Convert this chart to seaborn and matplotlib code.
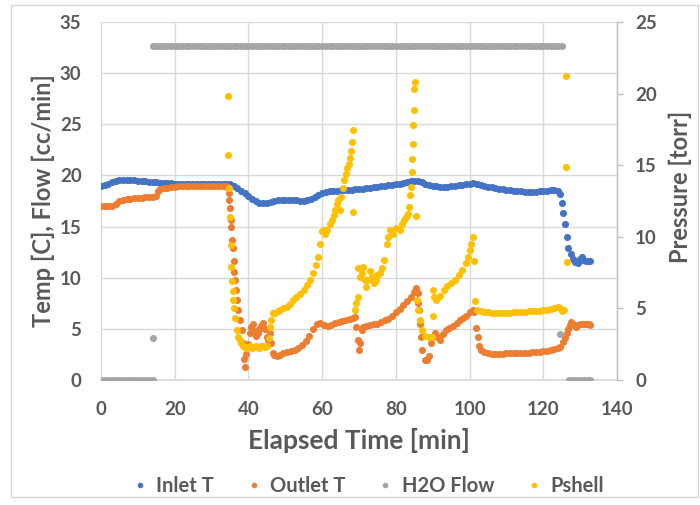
import matplotlib
matplotlib.use('Agg')
import matplotlib.pyplot as plt
import seaborn as sns
from matplotlib.lines import Line2D
from matplotlib.patches import Rectangle

# ---------------- data ----------------
inlet_time = [0, 1, 2, 3, 4, 5, 6, 7, 8, 9, 10, 11, 12, 13, 14, 15, 16, 17, 18, 19,
              20, 21, 22, 23, 24, 25, 26, 27, 28, 29, 30, 31, 32, 33, 34, 35, 36, 37, 38, 39,
              40, 41, 42, 43, 44, 45, 46, 47, 48, 49, 50, 51, 52, 53, 54, 55, 56, 57, 58, 59,
              60, 61, 62, 63, 64, 65, 66, 67, 68, 69, 70, 71, 72, 73, 74, 75, 76, 77, 78, 79,
              80, 81, 82, 83, 84, 85, 86, 87, 88, 89, 90, 91, 92, 93, 94, 95, 96, 97, 98, 99,
              100, 101, 102, 103, 104, 105, 106, 107, 108, 109, 110, 111, 112, 113, 114, 115,
              116, 117, 118, 119, 120, 121, 122, 123, 124,
              124.5, 125, 125.4, 125.9, 126.3, 126.8, 127.4, 128.1, 128.7, 129.4, 130.0, 130.4,
              130.9, 131.5, 132.1, 132.7]
inlet_temp = [19.0, 19.05, 19.2, 19.4, 19.5, 19.55, 19.6, 19.6, 19.6, 19.55,
              19.5, 19.5, 19.45, 19.4, 19.4, 19.35, 19.3, 19.3, 19.3, 19.25,
              19.2, 19.2, 19.2, 19.2, 19.2, 19.2, 19.2, 19.2, 19.2, 19.2,
              19.2, 19.2, 19.2, 19.2, 19.2, 19.15, 19.0, 18.8, 18.5, 18.25,
              18.0, 17.7, 17.5, 17.35, 17.3, 17.3, 17.4, 17.5, 17.6, 17.6,
              17.6, 17.6, 17.55, 17.55, 17.5, 17.5, 17.55, 17.7, 17.9, 18.1,
              18.3, 18.4, 18.45, 18.5, 18.5, 18.55, 18.55, 18.6, 18.6, 18.65,
              18.7, 18.7, 18.75, 18.8, 18.85, 18.9, 18.95, 19.0, 19.05, 19.1,
              19.15, 19.2, 19.3, 19.35, 19.45, 19.5, 19.5, 19.35, 19.2, 19.1,
              19.0, 18.95, 18.9, 18.9, 18.9, 18.95, 19.0, 19.05, 19.1, 19.15,
              19.2, 19.25, 19.2, 19.1, 19.0, 18.9, 18.85, 18.8, 18.7, 18.65,
              18.6, 18.55, 18.5, 18.45, 18.45, 18.4, 18.4, 18.4, 18.4, 18.45,
              18.5, 18.5, 18.55, 18.55, 18.5,
              18.2, 17.3, 16.3, 15.3, 14.0, 12.9, 12.3, 11.8, 11.5, 11.4, 11.8, 12.05,
              11.7, 11.6, 11.6, 11.6]

outlet_time = [0, 1, 2, 3, 4, 5, 6, 7, 8, 9, 10, 11, 12, 13, 14, 15, 15.5, 16, 17, 18, 19,
               20, 21, 22, 23, 24, 25, 26, 27, 28, 29, 30, 31, 32, 33, 34,
               34.3, 34.6, 34.8, 35.0, 35.2, 35.4, 35.6, 35.8, 36.0, 36.2, 36.4, 36.6, 36.8,
               37.2, 37.7, 38.2, 38.6, 38.8, 39.0,
               39.4, 39.8, 40.3, 40.8, 41.2, 41.6, 42.0, 42.5, 43.0, 43.5, 44.0, 44.5, 45.0,
               45.4, 45.8, 46.2, 46.6, 47.0, 47.7,
               48.5, 49.5, 50.5, 51.5, 52.5, 53.5, 54.5, 55.5, 56.5, 57.5, 58.5, 59.5, 60.5,
               61.5, 62.5, 63.5, 64.5, 65.5, 66.5, 67.5, 68.5, 69.0,
               69.3, 69.6, 69.9, 70.3, 70.7, 71.2, 72, 73, 74, 75, 76, 77, 78, 79, 80, 81,
               82, 83, 84, 85, 85.6,
               85.9, 86.1, 86.3, 86.6, 86.8, 87.2, 87.8, 88.4, 89.0, 89.6, 90.0, 90.6, 91.4,
               92.0, 92.8, 93.6, 94.5, 95.5, 96.5, 97.4, 98.2, 99, 100, 100.8,
               101.3, 101.8, 102.2, 102.6, 103.2, 104, 105, 106, 107, 108, 109, 110, 111,
               112, 113, 114, 115, 116, 117, 118, 119, 120, 121, 122, 123, 124,
               124.5, 125.4, 125.9, 126.3, 126.8, 127.2, 127.6, 128.1, 128.6, 129.0, 129.5,
               130, 130.6, 131.2, 131.8, 132.4, 132.8]
outlet_temp = [17.0, 17.0, 17.0, 17.0, 17.2, 17.5, 17.6, 17.65, 17.7, 17.75, 17.8, 17.8,
               17.85, 17.9, 17.9, 17.95, 18.5, 18.7, 18.75, 18.8, 18.85,
               18.9, 18.95, 19.0, 19.0, 19.0, 19.0, 19.0, 19.0, 19.0, 19.0, 19.0, 19.0, 19.0,
               19.0, 19.0,
               18.9, 18.25, 17.6, 16.8, 15.6, 15.0, 13.7, 12.9, 11.6, 10.6, 9.8, 8.8, 7.8,
               6.8, 5.9, 4.9, 3.6, 2.1, 1.3,
               2.5, 3.5, 4.56, 5.2, 5.5, 4.8, 4.3, 4.6, 5.0, 5.3, 5.6, 5.0, 4.2,
               3.9, 4.6, 3.6, 2.6, 2.4, 2.3,
               2.4, 2.6, 2.7, 2.8, 2.95, 3.1, 3.4, 3.8, 4.3, 5.0, 5.5, 5.6, 5.4,
               5.3, 5.4, 5.6, 5.7, 5.8, 5.9, 6.0, 6.1, 6.2,
               5.2, 3.9, 2.9, 3.6, 4.9, 5.2, 5.3, 5.4, 5.5, 5.5, 5.7, 5.9, 6.0, 6.3, 6.6, 6.9,
               7.3, 7.7, 8.1, 8.6, 9.0,
               8.5, 7.5, 6.8, 5.5, 4.2, 2.9, 2.0, 1.96, 2.3, 3.6, 4.2, 4.6, 4.2,
               3.9, 4.5, 4.9, 5.1, 5.3, 5.6, 5.9, 6.1, 6.3, 6.6, 6.8,
               6.6, 5.05, 4.2, 3.3, 2.9, 2.7, 2.6, 2.55, 2.55, 2.55, 2.55, 2.6, 2.6,
               2.6, 2.6, 2.6, 2.65, 2.65, 2.7, 2.7, 2.75, 2.8, 2.85, 2.95, 3.05, 3.15,
               3.26, 3.7, 4.1, 4.56, 5.0, 5.4, 5.7, 5.5, 5.3, 5.2, 5.4,
               5.45, 5.45, 5.5, 5.45, 5.45, 5.4]

flow_time = [0, 1, 2, 3, 4, 5, 6, 7, 8, 9, 10, 11, 12, 13, 14,
             14.2,
             14, 15, 16, 17, 18, 19, 20, 21, 22, 23, 24, 25, 26, 27,
             28, 29, 30, 31, 32, 33, 34, 35, 36, 37, 38, 39, 40, 41,
             42, 43, 44, 45, 46, 47, 48, 49, 50, 51, 52, 53, 54, 55,
             56, 57, 58, 59, 60, 61, 62, 63, 64, 65, 66, 67, 68, 69,
             70, 71, 72, 73, 74, 75, 76, 77, 78, 79, 80, 81, 82, 83,
             84, 85, 86, 87, 88, 89, 90, 91, 92, 93, 94, 95, 96, 97,
             98, 99, 100, 101, 102, 103, 104, 105, 106, 107, 108, 109, 110, 111,
             112, 113, 114, 115, 116, 117, 118, 119, 120, 121, 122, 123, 124, 125,
             124.4,
             127, 128, 129, 130, 131, 132, 132.7]
flow_rate = [0, 0, 0, 0, 0, 0, 0, 0, 0, 0, 0, 0, 0, 0, 0,
             4.07,
             32.7, 32.7, 32.7, 32.7, 32.7, 32.7, 32.7, 32.7, 32.7, 32.7, 32.7, 32.7, 32.7, 32.7,
             32.7, 32.7, 32.7, 32.7, 32.7, 32.7, 32.7, 32.7, 32.7, 32.7, 32.7, 32.7, 32.7, 32.7,
             32.7, 32.7, 32.7, 32.7, 32.7, 32.7, 32.7, 32.7, 32.7, 32.7, 32.7, 32.7, 32.7, 32.7,
             32.7, 32.7, 32.7, 32.7, 32.7, 32.7, 32.7, 32.7, 32.7, 32.7, 32.7, 32.7, 32.7, 32.7,
             32.7, 32.7, 32.7, 32.7, 32.7, 32.7, 32.7, 32.7, 32.7, 32.7, 32.7, 32.7, 32.7, 32.7,
             32.7, 32.7, 32.7, 32.7, 32.7, 32.7, 32.7, 32.7, 32.7, 32.7, 32.7, 32.7, 32.7, 32.7,
             32.7, 32.7, 32.7, 32.7, 32.7, 32.7, 32.7, 32.7, 32.7, 32.7, 32.7, 32.7, 32.7, 32.7,
             32.7, 32.7, 32.7, 32.7, 32.7, 32.7, 32.7, 32.7, 32.7, 32.7, 32.7, 32.7, 32.7, 32.7,
             4.47,
             0, 0, 0, 0, 0, 0, 0]

pshell_time = [34.4, 34.45, 34.7, 35.0, 35.3, 35.4, 35.6, 35.7, 35.9, 36.0, 36.3, 36.8,
               37.3, 37.7, 38.1, 38.6, 39.0, 39.5, 40.0, 40.5, 41.0, 41.5, 42.0, 42.5,
               43.0, 43.5, 44.0, 44.5, 45.0, 45.5, 45.8, 46.2, 46.7, 47.3, 48.0, 48.6,
               49.5, 50.4, 51.2, 52.0, 53.0, 54.0, 55.0, 56.0, 56.8, 57.6, 58.3, 59.0,
               59.5, 59.9, 60.4, 60.9, 61.4, 62.0, 62.6, 63.1, 63.6, 64.0, 64.4, 64.8,
               65.2, 65.6, 66.0, 66.4, 66.8, 67.2, 67.5, 67.8, 68.0, 68.3, 68.5,
               69.0, 69.3, 69.6, 69.8, 70.3, 70.7, 71.2, 71.6, 72.0, 72.5, 73.0, 73.5,
               74.0, 74.5, 75.0, 75.7, 76.3, 76.9, 77.5, 78.0, 78.5, 79.3, 80.0, 81.0,
               81.6, 82.2, 82.8, 83.3, 83.6, 83.9, 84.1, 84.3, 84.4, 84.6, 84.7, 84.8,
               85.0, 85.1, 85.4,
               85.8, 86.1, 86.5, 87.1, 88.0, 88.9, 89.7, 90.0, 90.2, 90.4,
               91, 92, 93, 94, 95, 96, 97, 98, 99, 99.6, 100, 100.5, 101.0, 101.1,
               101.5, 102,
               103, 104, 105, 106, 107, 108, 109, 110, 111, 112, 113, 114, 115, 116,
               117, 118, 119, 120, 121, 122, 123, 124,
               124.6, 125.2, 125.6, 126.2, 126.25, 126.3]
pshell_torr = [19.8, 15.7, 13.4, 11.4, 9.4, 7.9, 6.9, 6.2, 5.6, 5.0, 4.3, 3.5,
               3.0, 2.8, 2.6, 2.4, 2.3, 2.25, 2.3, 2.4, 2.25, 2.3, 2.4, 2.3,
               2.2, 2.35, 2.4, 2.3, 2.35, 2.9, 3.7, 4.2, 4.66, 4.7, 4.8, 4.9,
               5.0, 5.1, 5.3, 5.6, 5.8, 6.0, 6.3, 6.6, 7.0, 7.45, 8.0, 8.6,
               9.5, 10.4, 10.5, 10.2, 10.5, 10.9, 11.2, 11.5, 11.9, 12.3, 12.6, 11.9,
               12.8, 13.4, 14.0, 14.4, 14.8, 15.1, 15.5, 16.0, 16.6, 17.46, 11.75,
               4.9, 5.4, 5.8, 7.8, 7.2, 7.5, 7.9, 7.0, 6.5, 7.0, 7.6, 7.2,
               6.8, 7.0, 7.3, 7.45, 7.8, 8.4, 9.5, 10.0, 10.5, 10.2, 10.6, 10.5,
               10.9, 11.2, 11.4, 11.6, 12.1, 12.9, 13.5, 14.5, 15.4, 16.5, 17.8, 18.85,
               20.3, 20.8, 11.45,
               5.6, 4.9, 4.2, 3.5, 3.1, 3.0, 3.0, 4.5, 6.3, 5.8,
               5.6, 5.9, 6.3, 6.55, 6.75, 7.0, 7.3, 7.7, 8.2, 8.6, 9.1, 9.5, 10.0, 8.3,
               5.5, 4.9,
               4.8, 4.75, 4.72, 4.7, 4.7, 4.68, 4.66, 4.66, 4.7, 4.72, 4.75, 4.76, 4.78, 4.8,
               4.8, 4.82, 4.84, 4.86, 4.9, 4.95, 5.0, 5.07,
               5.0, 4.85, 4.9, 21.2, 14.9, 8.26]

series_names = ['Inlet T', 'Outlet T', 'H2O Flow', 'Pshell']
series_colors = ['#4472C4', '#ED7D31', '#A5A5A5', '#FFC000']
x_ticks = [0, 20, 40, 60, 80, 100, 120, 140]
left_ticks = [0, 5, 10, 15, 20, 25, 30, 35]
right_ticks = [0, 5, 10, 15, 20, 25]

assert len(inlet_time) == len(inlet_temp)
assert len(outlet_time) == len(outlet_temp)
assert len(flow_time) == len(flow_rate)
assert len(pshell_time) == len(pshell_torr)

# ---------------- styling ----------------
sns.set_theme(style='white')
plt.rcParams['font.family'] = ['Lato', 'DejaVu Sans']
plt.rcParams['font.weight'] = 'bold'
TXT = '#595959'
GRID = '#D9D9D9'

fig = plt.figure(figsize=(7.0, 5.05), dpi=100)
ax = fig.add_axes([101 / 700, 1 - 380 / 505, 516 / 700, 358 / 505])
ax2 = ax.twinx()

MS = 26
sns.scatterplot(x=inlet_time, y=inlet_temp, ax=ax, color=series_colors[0], s=MS,
                linewidth=0, legend=False, zorder=3)
sns.scatterplot(x=outlet_time, y=outlet_temp, ax=ax, color=series_colors[1], s=MS,
                linewidth=0, legend=False, zorder=3)
sns.scatterplot(x=flow_time, y=flow_rate, ax=ax, color=series_colors[2], s=MS,
                linewidth=0, legend=False, zorder=3)
sns.scatterplot(x=pshell_time, y=pshell_torr, ax=ax2, color=series_colors[3], s=MS,
                linewidth=0, legend=False, zorder=3)

ax.set_xlim(0, 140)
ax.set_ylim(0, 35)
ax2.set_ylim(0, 25)
ax.set_xticks(x_ticks)
ax.set_yticks(left_ticks)
ax2.set_yticks(right_ticks)

ax.set_axisbelow(True)
ax.grid(True, color=GRID, lw=1)
ax2.grid(False)
for s in ['left', 'top', 'right']:
    ax.spines[s].set_visible(False)
ax.spines['bottom'].set_color(GRID)
for s in ['left', 'top', 'bottom']:
    ax2.spines[s].set_visible(False)
ax2.spines['right'].set_color('#BFBFBF')
ax2.spines['right'].set_linewidth(1)

ax.tick_params(axis='x', length=0, labelsize=13.5, labelcolor=TXT, pad=15)
ax.tick_params(axis='y', length=0, labelsize=13.5, labelcolor=TXT, pad=14)
ax2.tick_params(axis='y', length=4, width=1, color='#BFBFBF', direction='out',
                labelsize=13.5, labelcolor=TXT, pad=9)

ax.set_xlabel('Elapsed Time [min]', fontsize=19, color=TXT, fontweight='bold')
ax.set_ylabel('Temp [C], Flow [cc/min]', fontsize=17, color=TXT, fontweight='bold')
ax2.set_ylabel('Pressure [torr]', fontsize=17, color=TXT, fontweight='bold')
ax.xaxis.set_label_coords(0.5, -0.168)
ax.xaxis.label.set_va('center')
ax.yaxis.set_label_coords(-0.111, 0.5)
ax.yaxis.label.set_va('center')
ax2.yaxis.set_label_coords(1.122, 0.539)
ax2.yaxis.label.set_va('center')

handles = [Line2D([], [], marker='o', ls='', color=c, markersize=4, markeredgewidth=0)
           for c in series_colors]
fig.legend(handles, series_names, loc='center', bbox_to_anchor=(0.524, 0.038), ncol=4,
           frameon=False, fontsize=14.5, labelcolor=TXT, handletextpad=0.3,
           columnspacing=1.5, handlelength=1.0)

fig.patches.append(Rectangle((11 / 700, 8 / 505), 687 / 700, 492 / 505,
                             transform=fig.transFigure, fill=False, ec=GRID, lw=1))

fig.savefig('out.png', dpi=100)
